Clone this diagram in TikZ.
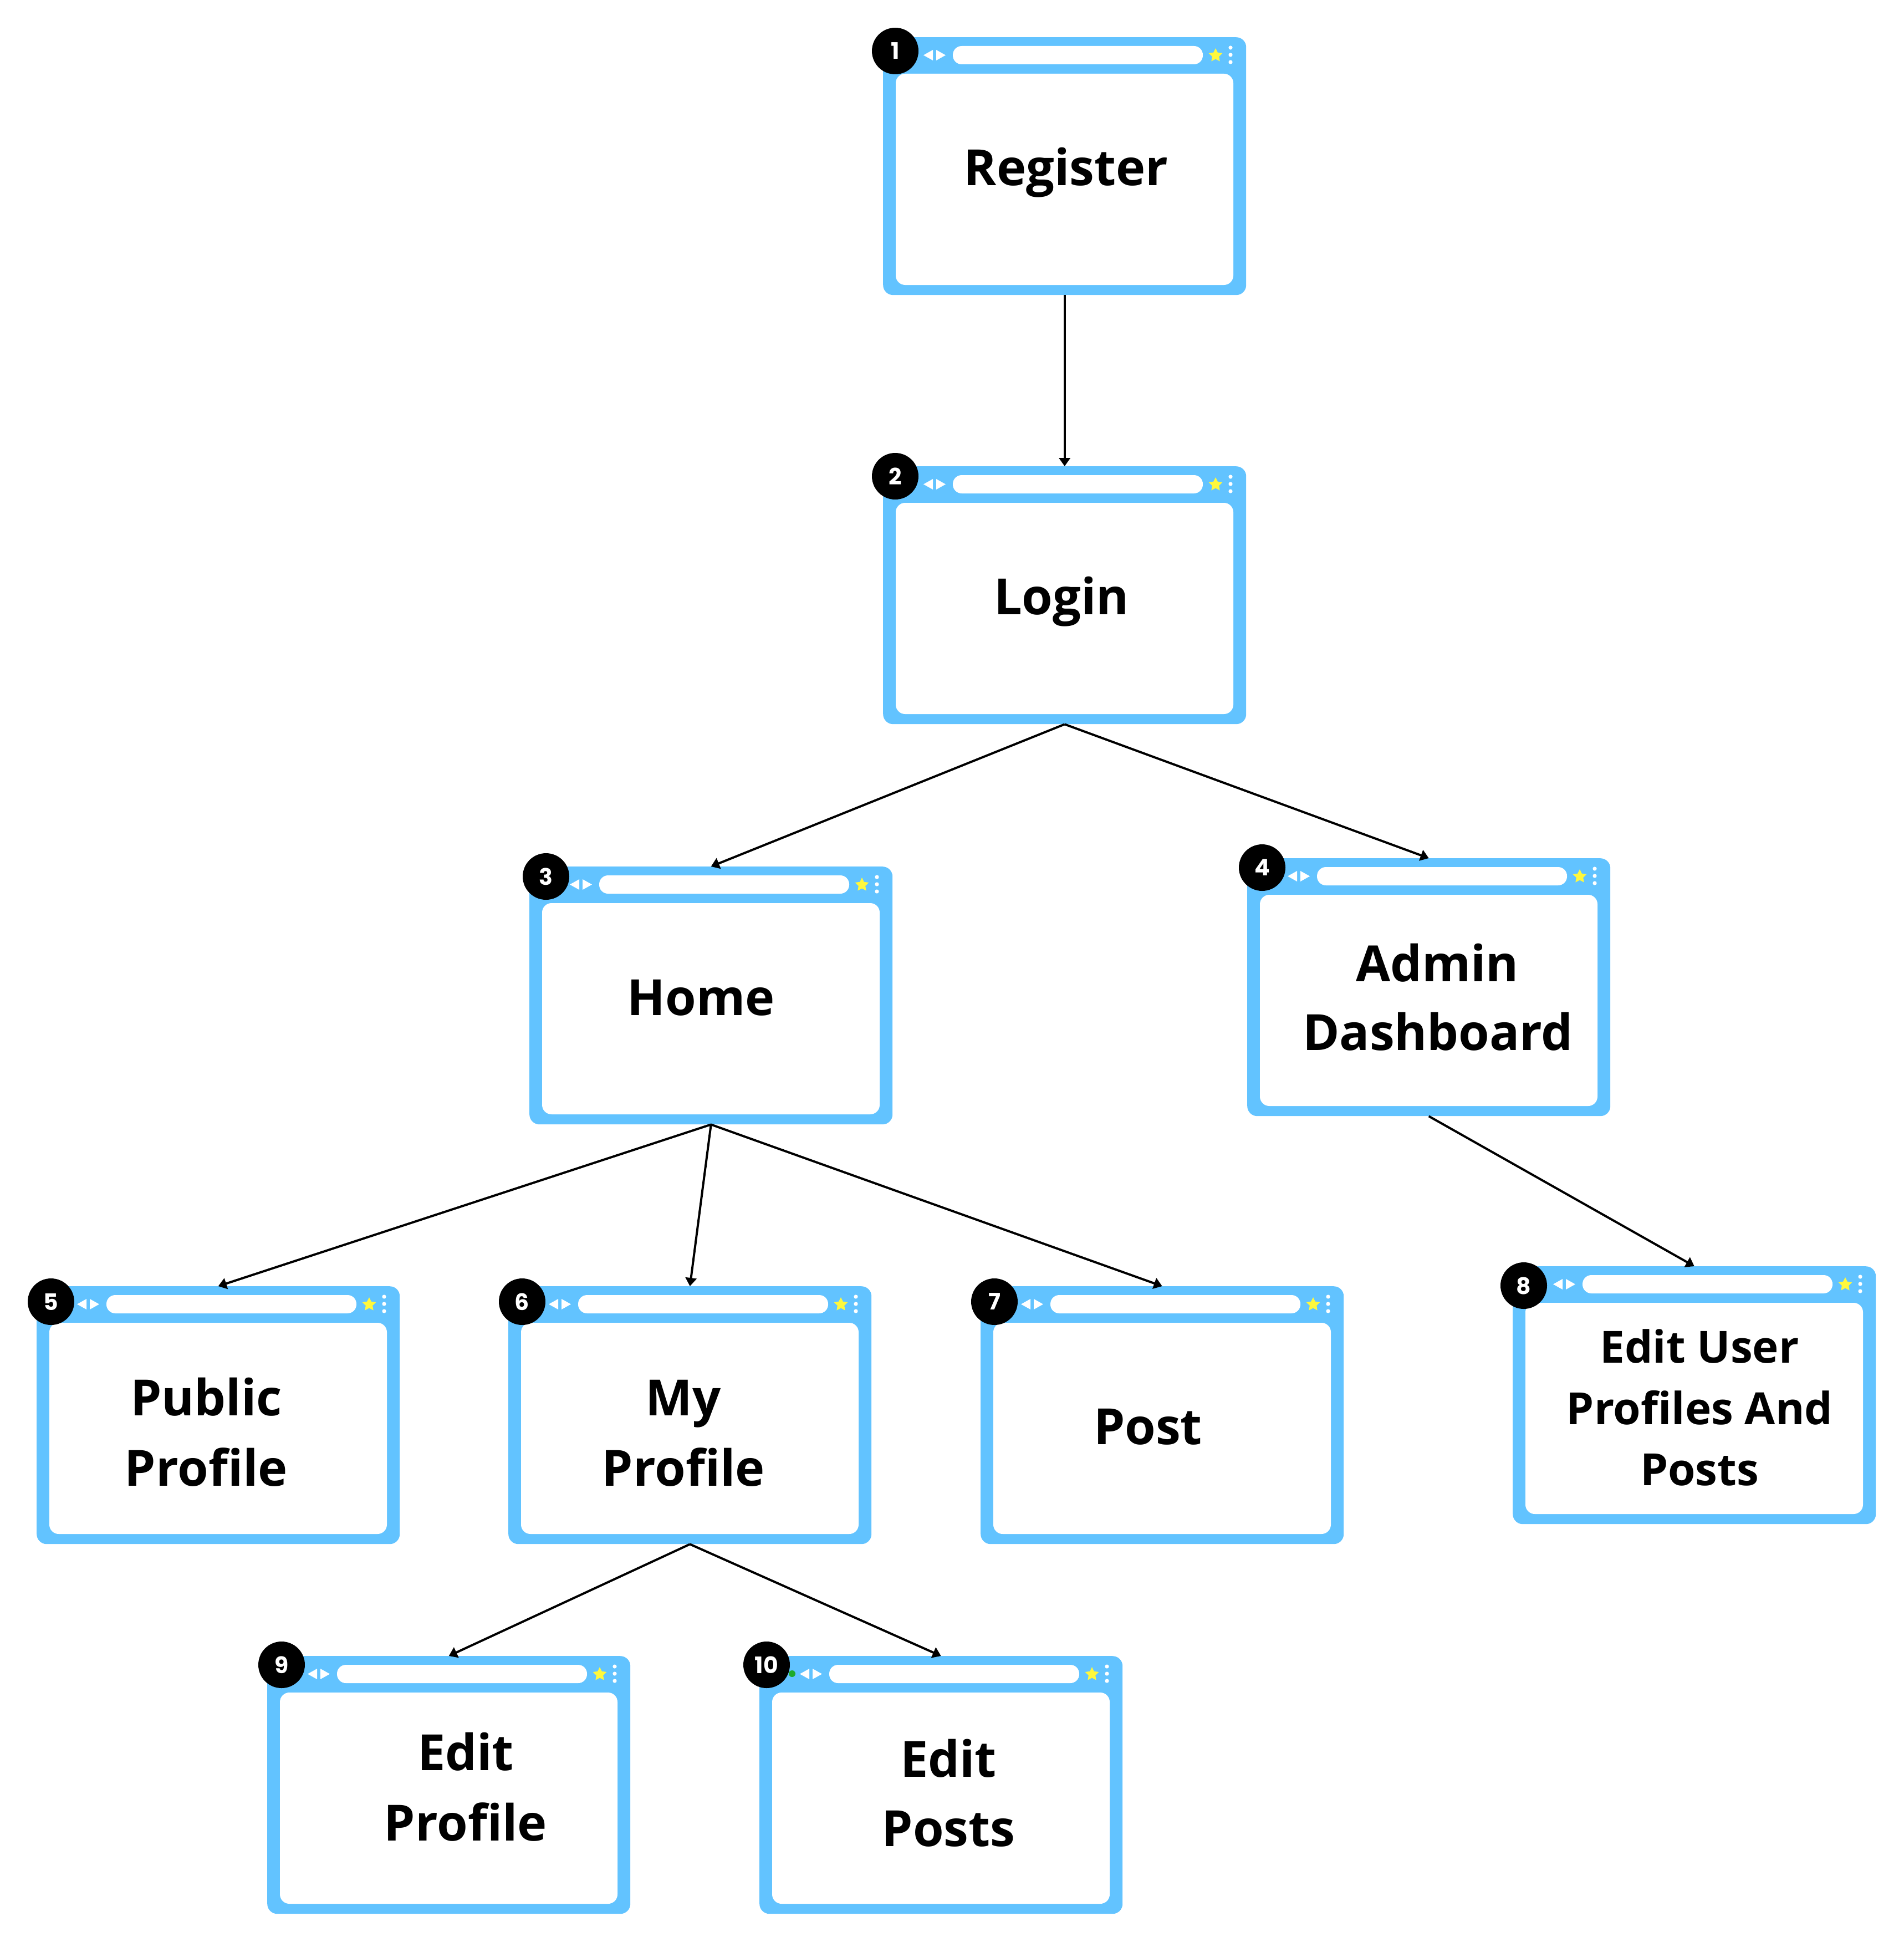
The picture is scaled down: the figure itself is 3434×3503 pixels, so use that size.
\documentclass[tikz,border=0pt]{standalone}
\usepackage{fontspec}
\setmainfont{Open Sans}
\newfontfamily\badgefont{Poppins}
\usetikzlibrary{shapes.geometric,arrows.meta}
\definecolor{winblue}{RGB}{98,195,255}
\definecolor{staryellow}{RGB}{255,248,60}
\definecolor{dotgreen}{RGB}{30,170,40}
\tikzset{
  winframe/.style={rectangle, fill=winblue, rounded corners=18pt, minimum width=655pt, minimum height=465pt, inner sep=0pt, anchor=north west, draw=none},
  badge/.style={circle, fill=black, minimum size=84pt, inner sep=0pt, text=white, font=\badgefont\bfseries\fontsize{41pt}{41pt}\selectfont},
  starmark/.style={star, star points=5, star point ratio=2.0, fill=staryellow, minimum size=26pt, inner sep=0pt},
  lbl/.style={font=\fontsize{90pt}{127pt}\selectfont\bfseries, anchor=base, inner sep=0pt},
  lblsmall/.style={font=\fontsize{80pt}{110pt}\selectfont\bfseries, anchor=base, inner sep=0pt},
  conn/.style={draw=black, line width=4pt, -{Triangle[length=15pt,width=20pt]}}
}
\newcommand\browserwin[7]{%
  \begin{scope}[shift={(#2,#3)}]
    \node[winframe] (#1) at (0,0) {};
    \fill[white, rounded corners=17pt] (23,66) rectangle (632,447);
    \fill[white, rounded corners=16pt] (126,16) rectangle (577,49);
    \fill[white] (90,23) -- (73,32.5) -- (90,42) -- cycle;
    \fill[white] (96,23) -- (113,32.5) -- (96,42) -- cycle;
    \node[starmark] (#1s) at (600,33) {};
    \fill[white] (627,19) circle (3.6);
    \fill[white] (627,32) circle (3.6);
    \fill[white] (627,45) circle (3.6);
    #7
    \node[badge] (#1b) at (#5,#6) {#4};
  \end{scope}}
\begin{document}
\begin{tikzpicture}[x=1pt,y=-1pt]
\useasboundingbox (0,0) rectangle (3434,3503);
\fill[white] (0,0) rectangle (3434,3503);

\browserwin{f1}{1593}{67}{1}{22}{25}{}
\browserwin{f2}{1593}{841}{2}{22}{18}{}
\browserwin{f3}{955}{1563}{3}{30}{18}{}
\browserwin{f4}{2250}{1548}{4}{27}{17}{}
\browserwin{f5}{66}{2320}{5}{26}{28}{}
\browserwin{f6}{917}{2320}{6}{25}{28}{}
\browserwin{f7}{1769}{2320}{7}{25}{28}{}
\browserwin{f8}{2729}{2284}{8}{20}{35}{}
\browserwin{f9}{482}{2987}{9}{26}{16}{}
\browserwin{f10}{1370}{2987}{10}{13}{16}{\fill[dotgreen] (59,32) circle (6);}

\node[lbl] (t1) at (1923,334) {Register};
\node[lbl] (t2) at (1915,1108) {Login};
\node[lbl] (t3) at (1265,1831) {Home};
\node[lbl] (t4a) at (2593,1770) {Admin};
\node[lbl] (t4b) at (2594,1894) {Dashboard};
\node[lbl] (t5a) at (372,2553) {Public};
\node[lbl] (t5b) at (372,2680) {Profile};
\node[lbl] (t6a) at (1233,2553) {My};
\node[lbl] (t6b) at (1233,2680) {Profile};
\node[lbl] (t7) at (2071,2605) {Post};
\node[lblsmall] (t8a) at (3066,2458) {Edit User};
\node[lblsmall] (t8b) at (3066,2569) {Profiles And};
\node[lblsmall] (t8c) at (3066,2679) {Posts};
\node[lbl] (t9a) at (840,3193) {Edit};
\node[lbl] (t9b) at (840,3320) {Profile};
\node[lbl] (t10a) at (1711,3205) {Edit};
\node[lbl] (t10b) at (1711,3330) {Posts};

\draw[conn] (f1.south) -- (f2.north);
\draw[conn] (f2.south) -- (f3.north);
\draw[conn] (f2.south) -- (f4.north);
\draw[conn] (f3.south) -- (f5.north);
\draw[conn] (f3.south) -- (f6.north);
\draw[conn] (f3.south) -- (f7.north);
\draw[conn] (f4.south) -- (f8.north);
\draw[conn] (f6.south) -- (f9.north);
\draw[conn] (f6.south) -- (f10.north);
\end{tikzpicture}
\end{document}
